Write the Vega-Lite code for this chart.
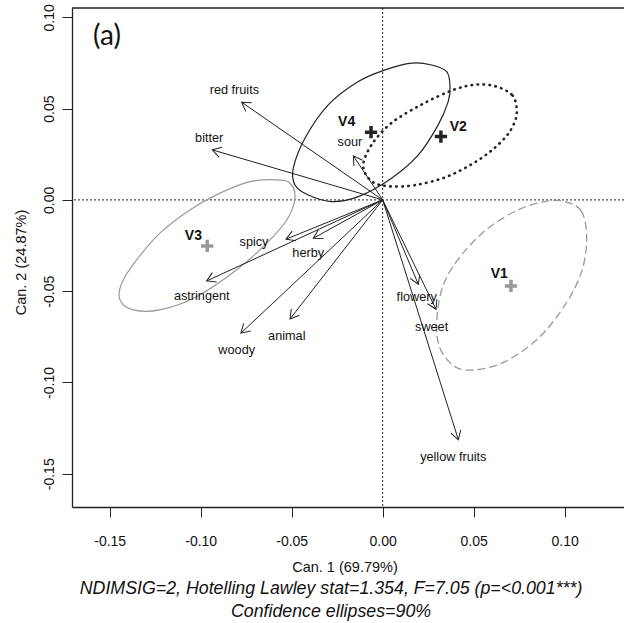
{
  "$schema": "https://vega.github.io/schema/vega-lite/v6.json",
  "autosize": "none",
  "width": 552,
  "height": 499,
  "padding": {"left": 72, "top": 8, "right": 0, "bottom": 116},
  "config": {"view": {"stroke": null}, "font": "Liberation Sans"},
  "title": {
    "text": ["NDIMSIG=2, Hotelling Lawley stat=1.354, F=7.05 (p=<0.001***)", "Confidence ellipses=90%"],
    "orient": "bottom", "anchor": "middle", "frame": "group",
    "font": "Liberation Sans", "fontStyle": "italic", "fontWeight": "normal",
    "fontSize": 17.8, "lineHeight": 22.7, "color": "#111", "dx": -17, "dy": 2, "offset": 4, "baseline": "top"
  },
  "datasets": {
    "arrows": [
      {"name": "red fruits", "x": -0.0775, "y": 0.0535},
      {"name": "bitter", "x": -0.0936, "y": 0.0274},
      {"name": "sour", "x": -0.0161, "y": 0.0241},
      {"name": "spicy", "x": -0.0531, "y": -0.0215},
      {"name": "herby", "x": -0.0381, "y": -0.021},
      {"name": "astringent", "x": -0.0967, "y": -0.0444},
      {"name": "woody", "x": -0.0779, "y": -0.073},
      {"name": "animal", "x": -0.0509, "y": -0.0652},
      {"name": "flowery", "x": 0.0196, "y": -0.0462},
      {"name": "sweet", "x": 0.0293, "y": -0.0599},
      {"name": "yellow fruits", "x": 0.0416, "y": -0.1314}
    ],
    "labels": [
      {"t": "red fruits", "x": -0.0815, "y": 0.0602},
      {"t": "bitter", "x": -0.0953, "y": 0.0338},
      {"t": "sour", "x": -0.018, "y": 0.0319},
      {"t": "spicy", "x": -0.0707, "y": -0.0232},
      {"t": "herby", "x": -0.0409, "y": -0.0292},
      {"t": "astringent", "x": -0.0994, "y": -0.0526},
      {"t": "woody", "x": -0.0802, "y": -0.0821},
      {"t": "animal", "x": -0.0527, "y": -0.0745},
      {"t": "flowery", "x": 0.0187, "y": -0.053},
      {"t": "sweet", "x": 0.0269, "y": -0.0694},
      {"t": "yellow fruits", "x": 0.0388, "y": -0.1406}
    ],
    "groups": [
      {"g": "V1", "x": 0.0705, "y": -0.0471},
      {"g": "V2", "x": 0.032, "y": 0.0347},
      {"g": "V3", "x": -0.0964, "y": -0.0252},
      {"g": "V4", "x": -0.0064, "y": 0.0371}
    ],
    "glabels": [
      {"g": "V1", "x": 0.0641, "y": -0.0405},
      {"g": "V2", "x": 0.0415, "y": 0.0401},
      {"g": "V3", "x": -0.104, "y": -0.0197},
      {"g": "V4", "x": -0.0198, "y": 0.0429}
    ],
    "ell": [
      {"g": "V3", "i": 1, "x": -0.0482, "y": 0.0009},
      {"g": "V3", "i": 2, "x": -0.0509, "y": 0.0091},
      {"g": "V3", "i": 3, "x": -0.0582, "y": 0.011},
      {"g": "V3", "i": 4, "x": -0.0729, "y": 0.01},
      {"g": "V3", "i": 5, "x": -0.0894, "y": 0.0037},
      {"g": "V3", "i": 6, "x": -0.1059, "y": -0.0055},
      {"g": "V3", "i": 7, "x": -0.1224, "y": -0.0182},
      {"g": "V3", "i": 8, "x": -0.1352, "y": -0.0329},
      {"g": "V3", "i": 9, "x": -0.1434, "y": -0.0456},
      {"g": "V3", "i": 10, "x": -0.1443, "y": -0.0548},
      {"g": "V3", "i": 11, "x": -0.137, "y": -0.0602},
      {"g": "V3", "i": 12, "x": -0.1224, "y": -0.0602},
      {"g": "V3", "i": 13, "x": -0.1022, "y": -0.053},
      {"g": "V3", "i": 14, "x": -0.0802, "y": -0.0383},
      {"g": "V3", "i": 15, "x": -0.0637, "y": -0.0237},
      {"g": "V3", "i": 16, "x": -0.0527, "y": -0.011},
      {"g": "V4", "i": 1, "x": 0.037, "y": 0.062},
      {"g": "V4", "i": 2, "x": 0.0352, "y": 0.0703},
      {"g": "V4", "i": 3, "x": 0.0269, "y": 0.0739},
      {"g": "V4", "i": 4, "x": 0.0159, "y": 0.0749},
      {"g": "V4", "i": 5, "x": 0.0013, "y": 0.0712},
      {"g": "V4", "i": 6, "x": -0.0134, "y": 0.0648},
      {"g": "V4", "i": 7, "x": -0.0299, "y": 0.052},
      {"g": "V4", "i": 8, "x": -0.0427, "y": 0.0338},
      {"g": "V4", "i": 9, "x": -0.0491, "y": 0.0174},
      {"g": "V4", "i": 10, "x": -0.0482, "y": 0.0082},
      {"g": "V4", "i": 11, "x": -0.0409, "y": 0.0027},
      {"g": "V4", "i": 12, "x": -0.028, "y": -0.0009},
      {"g": "V4", "i": 13, "x": -0.0134, "y": 0.0018},
      {"g": "V4", "i": 14, "x": 0.0049, "y": 0.0119},
      {"g": "V4", "i": 15, "x": 0.0196, "y": 0.0246},
      {"g": "V4", "i": 16, "x": 0.0305, "y": 0.0411},
      {"g": "V4", "i": 17, "x": 0.036, "y": 0.0538},
      {"g": "V2", "i": 1, "x": 0.0736, "y": 0.0504},
      {"g": "V2", "i": 2, "x": 0.0709, "y": 0.0577},
      {"g": "V2", "i": 3, "x": 0.0617, "y": 0.0623},
      {"g": "V2", "i": 4, "x": 0.0507, "y": 0.0631},
      {"g": "V2", "i": 5, "x": 0.0379, "y": 0.0599},
      {"g": "V2", "i": 6, "x": 0.0214, "y": 0.0522},
      {"g": "V2", "i": 7, "x": 0.0049, "y": 0.0422},
      {"g": "V2", "i": 8, "x": -0.006, "y": 0.0303},
      {"g": "V2", "i": 9, "x": -0.0107, "y": 0.0185},
      {"g": "V2", "i": 10, "x": -0.006, "y": 0.0102},
      {"g": "V2", "i": 11, "x": 0.0031, "y": 0.0075},
      {"g": "V2", "i": 12, "x": 0.0177, "y": 0.0081},
      {"g": "V2", "i": 13, "x": 0.036, "y": 0.013},
      {"g": "V2", "i": 14, "x": 0.0544, "y": 0.023},
      {"g": "V2", "i": 15, "x": 0.0672, "y": 0.034},
      {"g": "V2", "i": 16, "x": 0.0727, "y": 0.0431},
      {"g": "V1", "i": 1, "x": 0.1121, "y": -0.021},
      {"g": "V1", "i": 2, "x": 0.1093, "y": -0.0064},
      {"g": "V1", "i": 3, "x": 0.1002, "y": -0.0009},
      {"g": "V1", "i": 4, "x": 0.0892, "y": -0.0009},
      {"g": "V1", "i": 5, "x": 0.0745, "y": -0.0055},
      {"g": "V1", "i": 6, "x": 0.058, "y": -0.0155},
      {"g": "V1", "i": 7, "x": 0.0434, "y": -0.0301},
      {"g": "V1", "i": 8, "x": 0.0333, "y": -0.0466},
      {"g": "V1", "i": 9, "x": 0.0297, "y": -0.0666},
      {"g": "V1", "i": 10, "x": 0.0315, "y": -0.0812},
      {"g": "V1", "i": 11, "x": 0.0397, "y": -0.0913},
      {"g": "V1", "i": 12, "x": 0.0507, "y": -0.0931},
      {"g": "V1", "i": 13, "x": 0.0672, "y": -0.0886},
      {"g": "V1", "i": 14, "x": 0.0855, "y": -0.0758},
      {"g": "V1", "i": 15, "x": 0.1002, "y": -0.0575},
      {"g": "V1", "i": 16, "x": 0.1093, "y": -0.0393}
    ]
  },
  "encoding": {
    "x": {
      "type": "quantitative",
      "scale": {"domain": [-0.1707, 0.1326], "nice": false, "zero": false},
      "axis": {
        "title": "Can. 1 (69.79%)",
        "values": [-0.15, -0.1, -0.05, 0, 0.05, 0.1],
        "labelExpr": "(datum.value < 0 ? '-' : '') + format(abs(datum.value), '.2f')",
        "grid": false, "domainColor": "#222", "domainWidth": 1.3,
        "tickColor": "#222", "tickSize": 10, "tickWidth": 1,
        "labelFont": "Liberation Sans", "labelFontSize": 14, "labelColor": "#111",
        "labelBaseline": "alphabetic", "labelPadding": 28, "labelFlush": false, "labelOverlap": false,
        "titleFont": "Liberation Sans", "titleFontSize": 14.5, "titleFontWeight": "normal", "titleColor": "#111",
        "titleX": 272.5, "titleY": 64.7, "titleBaseline": "alphabetic", "titleAlign": "center"
      }
    },
    "y": {
      "type": "quantitative",
      "scale": {"domain": [-0.1682, 0.1051], "nice": false, "zero": false},
      "axis": {
        "title": "Can. 2 (24.87%)",
        "values": [-0.15, -0.1, -0.05, 0, 0.05, 0.1],
        "labelExpr": "(datum.value < 0 ? '-' : '') + format(abs(datum.value), '.2f')",
        "grid": false, "domainColor": "#222", "domainWidth": 1.3,
        "tickColor": "#222", "tickSize": 10, "tickWidth": 1,
        "labelFont": "Liberation Sans", "labelFontSize": 14, "labelColor": "#111",
        "labelAngle": 270, "labelAlign": "center", "labelBaseline": "alphabetic", "labelPadding": 9,
        "labelFlush": false, "labelOverlap": false,
        "titleFont": "Liberation Sans", "titleFontSize": 14.5, "titleFontWeight": "normal", "titleColor": "#111",
        "titleAngle": 270, "titleX": -47, "titleY": 254, "titleBaseline": "alphabetic", "titleAlign": "center"
      }
    }
  },
  "layer": [
    {
      "data": {"values": [{}]},
      "mark": {"type": "rule", "color": "#222", "strokeWidth": 1, "strokeDash": [2, 2]},
      "encoding": {"x": {"datum": 0}}
    },
    {
      "data": {"values": [{}]},
      "mark": {"type": "rule", "color": "#222", "strokeWidth": 1, "strokeDash": [2, 2]},
      "encoding": {"y": {"datum": 0}}
    },
    {
      "data": {"values": [{}]},
      "mark": {"type": "rule", "color": "#222", "strokeWidth": 1.3},
      "encoding": {"y": {"datum": 0.1051}}
    },
    {
      "data": {"name": "ell"},
      "transform": [{"filter": "datum.g === 'V3'"}],
      "mark": {"type": "line", "interpolate": "cardinal-closed", "color": "#999", "strokeWidth": 1.2},
      "encoding": {"x": {"field": "x", "type": "quantitative"}, "y": {"field": "y", "type": "quantitative"}, "order": {"field": "i", "type": "quantitative"}}
    },
    {
      "data": {"name": "ell"},
      "transform": [{"filter": "datum.g === 'V4'"}],
      "mark": {"type": "line", "interpolate": "cardinal-closed", "color": "#222", "strokeWidth": 1.2},
      "encoding": {"x": {"field": "x", "type": "quantitative"}, "y": {"field": "y", "type": "quantitative"}, "order": {"field": "i", "type": "quantitative"}}
    },
    {
      "data": {"name": "ell"},
      "transform": [{"filter": "datum.g === 'V2'"}],
      "mark": {"type": "line", "interpolate": "cardinal-closed", "color": "#222", "strokeWidth": 2.6, "strokeDash": [0.5, 5.5], "strokeCap": "round"},
      "encoding": {"x": {"field": "x", "type": "quantitative"}, "y": {"field": "y", "type": "quantitative"}, "order": {"field": "i", "type": "quantitative"}}
    },
    {
      "data": {"name": "ell"},
      "transform": [{"filter": "datum.g === 'V1'"}],
      "mark": {"type": "line", "interpolate": "cardinal-closed", "color": "#999", "strokeWidth": 1.3, "strokeDash": [8, 4]},
      "encoding": {"x": {"field": "x", "type": "quantitative"}, "y": {"field": "y", "type": "quantitative"}, "order": {"field": "i", "type": "quantitative"}}
    },
    {
      "data": {"name": "arrows"},
      "mark": {"type": "rule", "color": "#222", "strokeWidth": 1},
      "encoding": {
        "x": {"field": "x", "type": "quantitative"}, "y": {"field": "y", "type": "quantitative"},
        "x2": {"datum": 0}, "y2": {"datum": 0}
      }
    },
    {
      "data": {"name": "arrows"},
      "transform": [{"calculate": "atan2(-datum.y, datum.x) * 180 / PI", "as": "ang"}],
      "mark": {"type": "point", "shape": "M-1,-0.6L0,0L-1,0.6", "filled": false, "color": "#222", "strokeWidth": 1, "size": 300, "opacity": 1},
      "encoding": {
        "x": {"field": "x", "type": "quantitative"}, "y": {"field": "y", "type": "quantitative"},
        "angle": {"field": "ang", "type": "quantitative", "scale": null}
      }
    },
    {
      "data": {"name": "labels"},
      "mark": {"type": "text", "font": "Liberation Sans", "fontSize": 12.7, "color": "#111", "align": "center", "baseline": "middle"},
      "encoding": {"x": {"field": "x", "type": "quantitative"}, "y": {"field": "y", "type": "quantitative"}, "text": {"field": "t"}}
    },
    {
      "data": {"name": "groups"},
      "mark": {"type": "point", "shape": "M-1,0L1,0M0,-1L0,1", "filled": false, "strokeWidth": 3.5, "size": 150, "opacity": 1},
      "encoding": {
        "x": {"field": "x", "type": "quantitative"}, "y": {"field": "y", "type": "quantitative"},
        "color": {"field": "g", "type": "nominal", "scale": {"domain": ["V1", "V2", "V3", "V4"], "range": ["#999999", "#222222", "#999999", "#222222"]}, "legend": null}
      }
    },
    {
      "data": {"name": "glabels"},
      "mark": {"type": "text", "font": "Liberation Sans", "fontSize": 14, "fontWeight": "bold", "color": "#111", "align": "center", "baseline": "middle"},
      "encoding": {"x": {"field": "x", "type": "quantitative"}, "y": {"field": "y", "type": "quantitative"}, "text": {"field": "g"}}
    },
    {
      "data": {"values": [{"t": "(a)", "x": -0.1515, "y": 0.089}]},
      "mark": {"type": "text", "font": "Lato", "fontSize": 28, "color": "#111", "align": "center", "baseline": "middle"},
      "encoding": {"x": {"field": "x", "type": "quantitative"}, "y": {"field": "y", "type": "quantitative"}, "text": {"field": "t"}}
    }
  ]
}
